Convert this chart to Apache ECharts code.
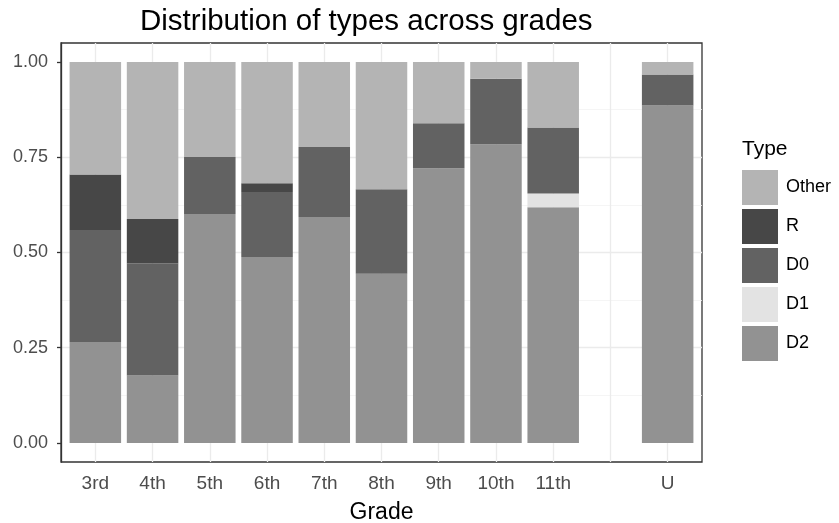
<!DOCTYPE html>
<html>
<head>
<meta charset="utf-8">
<script src="https://cdn.jsdelivr.net/npm/echarts@6/dist/echarts.min.js"></script>
<style>
  html, body { margin: 0; padding: 0; background: #ffffff; }
  #chart { width: 839px; height: 523px; }
</style>
</head>
<body>
<div id="chart"></div>
<script>
// Categories (index 9 is an empty slot on the axis)
const categories = ['3rd', '4th', '5th', '6th', '7th', '8th', '9th', '10th', '11th', '', 'U'];
// Share of each type per grade ('-' = no bar)
const d2Values    = [0.265, 0.177, 0.601, 0.488, 0.593, 0.444, 0.721, 0.784, 0.619, '-', 0.886];
const d1Values    = [0,     0,     0,     0,     0,     0,     0,     0,     0.036, '-', 0];
const d0Values    = [0.294, 0.294, 0.150, 0.171, 0.184, 0.222, 0.118, 0.172, 0.173, '-', 0.081];
const rValues     = [0.146, 0.117, 0,     0.023, 0,     0,     0,     0,     0,     '-', 0];
const otherValues = [0.295, 0.412, 0.249, 0.318, 0.223, 0.334, 0.161, 0.044, 0.172, '-', 0.033];
const yTicks = [0, 0.25, 0.5, 0.75, 1];
const typeNames = ['Other', 'R', 'D0', 'D1', 'D2'];

const FONT = 'Liberation Sans, Arial, Helvetica, sans-serif';
const colors = { Other: '#b4b4b4', R: '#474747', D0: '#626262', D1: '#e3e3e3', D2: '#929292' };
const xIdx = categories.map((c, i) => i);

// panel geometry (ggplot-like discrete expansion of 0.6 units)
const PANEL_L = 61, PANEL_R = 702, PANEL_T = 43, PANEL_B = 462, W = 839, H = 523;
const unit = (PANEL_R - PANEL_L) / (categories.length - 1 + 1.2);
const inset = 0.1 * unit;

function makeSeries(name, values) {
  return {
    name: name,
    type: 'bar',
    stack: 'total',
    xAxisIndex: 1, yAxisIndex: 1,
    barWidth: '90%',
    itemStyle: { color: colors[name] },
    emphasis: { disabled: true },
    data: values
  };
}

const chart = echarts.init(document.getElementById('chart'), null, { renderer: 'canvas' });
chart.setOption({
  animation: false,
  backgroundColor: '#ffffff',
  title: [
    {
      text: 'Distribution of types across grades',
      left: 135, top: 2,
      textStyle: { fontFamily: FONT, fontSize: 29.5, fontWeight: 'normal', color: '#000000' }
    },
    {
      text: 'Type',
      left: 737, top: 134,
      textStyle: { fontFamily: FONT, fontSize: 21, fontWeight: 'normal', color: '#000000' }
    }
  ],
  legend: {
    data: typeNames,
    orient: 'vertical',
    left: 742, top: 170,
    padding: 0,
    itemWidth: 36, itemHeight: 35, itemGap: 4,
    icon: 'rect',
    selectedMode: false,
    textStyle: { fontFamily: FONT, fontSize: 18, color: '#000000', padding: [0, 0, 0, 3] }
  },
  grid: [
    {
      left: PANEL_L, right: W - PANEL_R, top: PANEL_T, bottom: H - PANEL_B,
      containLabel: false,
      outerBoundsMode: 'none',
      show: true,
      backgroundColor: '#ffffff',
      borderColor: '#333333',
      borderWidth: 1.3
    },
    {
      left: PANEL_L + inset, right: W - PANEL_R + inset, top: PANEL_T, bottom: H - PANEL_B,
      containLabel: false,
      outerBoundsMode: 'none',
      show: false
    }
  ],
  xAxis: [
    {
      gridIndex: 0,
      type: 'value',
      min: -0.6, max: 10.6,
      minInterval: 1, maxInterval: 1,
      splitNumber: 11,
      name: 'Grade',
      nameLocation: 'middle',
      nameGap: 39,
      nameTextStyle: { fontFamily: FONT, fontSize: 23, color: '#000000' },
      axisLine: { show: false, onZero: false },
      axisTick: { show: false },
      axisLabel: {
        customValues: xIdx,
        margin: 12,
        fontFamily: FONT, fontSize: 19, color: '#4d4d4d',
        formatter: function (v) { return Number.isInteger(v) && categories[v] !== undefined ? categories[v] : ''; }
      },
      splitLine: { show: true, showMinLine: false, showMaxLine: false, lineStyle: { color: '#ebebeb', width: 1.3 } }
    },
    {
      gridIndex: 1,
      type: 'category',
      data: categories,
      show: false,
      axisLine: { onZero: false }
    }
  ],
  yAxis: [
    {
      gridIndex: 0,
      type: 'value',
      min: -0.05, max: 1.05,
      minInterval: 0.25, maxInterval: 0.25,
      splitNumber: 4,
      axisLine: { show: true, onZero: false, lineStyle: { color: '#333333', width: 1.3 } },
      axisTick: { show: true, length: 4, customValues: yTicks, lineStyle: { color: '#333333', width: 1.3 } },
      axisLabel: {
        customValues: yTicks,
        margin: 13,
        padding: [8, 0, 0, 0],
        fontFamily: FONT, fontSize: 18, color: '#4d4d4d',
        formatter: function (v) { return (v < -0.001 || v > 1.001) ? '' : v.toFixed(2); }
      },
      splitLine: { show: true, showMinLine: false, showMaxLine: false, lineStyle: { color: '#ebebeb', width: 1.3 } },
      minorTick: { show: false, splitNumber: 2 },
      minorSplitLine: { show: true, lineStyle: { color: '#f3f3f3', width: 0.8 } }
    },
    {
      gridIndex: 1,
      type: 'value',
      min: -0.05, max: 1.05,
      show: false,
      axisLine: { onZero: false },
      splitLine: { show: false }
    }
  ],
  series: [
    makeSeries('D2', d2Values),
    makeSeries('D1', d1Values),
    makeSeries('D0', d0Values),
    makeSeries('R', rValues),
    makeSeries('Other', otherValues)
  ]
});
</script>
</body>
</html>
